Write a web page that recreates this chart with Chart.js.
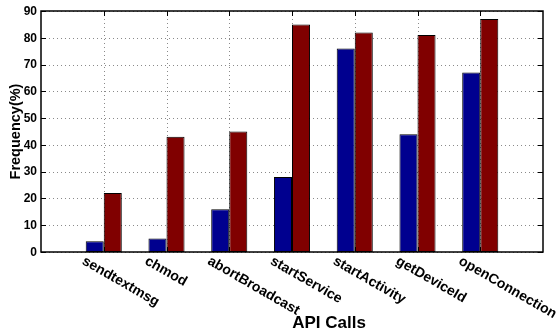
<!DOCTYPE html>
<html>
<head>
<meta charset="utf-8">
<script src="https://cdn.jsdelivr.net/npm/chart.js@4/dist/chart.umd.min.js"></script>
<style>
html,body{margin:0;padding:0;background:#fff;}
canvas{display:block;}
</style>
</head>
<body>
<canvas id="c" width="558" height="334"></canvas>
<script>
const categories = ['sendtextmsg', 'chmod', 'abortBroadcast', 'startService', 'startActivity', 'getDeviceId', 'openConnection'];
const blueValues = [4, 5, 16, 28, 76, 44, 67];
const redValues = [22, 43, 45, 85, 82, 81, 87];
const yMin = 0, yMax = 90, yStep = 10;
const xTitle = 'API Calls';
const yTitle = 'Frequency(%)';

const labels = [''].concat(categories, ['']);
const pad = arr => [null].concat(arr, [null]);

const FONT = '"Liberation Sans", Arial, sans-serif';

const gridPlugin = {
  id: 'dottedGrid',
  beforeDatasetsDraw(chart) {
    const ctx = chart.ctx;
    const a = chart.chartArea;
    const xs = chart.scales.x, ys = chart.scales.y;
    ctx.save();
    ctx.strokeStyle = '#8a8a8a';
    ctx.lineWidth = 1;
    ctx.setLineDash([1, 3]);
    ys.ticks.forEach(t => {
      const y = Math.round(ys.getPixelForValue(t.value)) + 0.5;
      ctx.beginPath(); ctx.moveTo(a.left, y); ctx.lineTo(a.right, y); ctx.stroke();
    });
    for (let i = 1; i < labels.length - 1; i++) {
      const x = Math.round(xs.getPixelForValue(i)) + 0.5;
      ctx.beginPath(); ctx.moveTo(x, a.top); ctx.lineTo(x, a.bottom); ctx.stroke();
    }
    ctx.restore();
  }
};

const decor = {
  id: 'decor',
  afterDraw(chart) {
    const ctx = chart.ctx;
    const a = chart.chartArea;
    const xs = chart.scales.x, ys = chart.scales.y;
    ctx.save();
    ctx.strokeStyle = '#000';
    ctx.lineWidth = 1.5;
    ctx.strokeRect(a.left, a.top, a.right - a.left, a.bottom - a.top);
    ctx.lineWidth = 1;
    ctx.fillStyle = '#000';
    ctx.font = 'bold 12px ' + FONT;
    ctx.textAlign = 'right';
    ctx.textBaseline = 'middle';
    ys.ticks.forEach(t => {
      const yp = ys.getPixelForValue(t.value);
      const y = Math.round(yp) + 0.5;
      ctx.beginPath();
      ctx.moveTo(a.left, y); ctx.lineTo(a.left + 5, y);
      ctx.moveTo(a.right, y); ctx.lineTo(a.right - 5, y);
      ctx.stroke();
      ctx.fillText(String(t.value), a.left - 4, yp + 0.5);
    });
    for (let i = 1; i < labels.length - 1; i++) {
      const x = Math.round(xs.getPixelForValue(i)) + 0.5;
      ctx.beginPath();
      ctx.moveTo(x, a.top); ctx.lineTo(x, a.top + 5);
      ctx.moveTo(x, a.bottom); ctx.lineTo(x, a.bottom - 5);
      ctx.stroke();
    }
    ctx.font = 'bold 14px ' + FONT;
    ctx.textAlign = 'left';
    ctx.textBaseline = 'top';
    categories.forEach((c, i) => {
      const x = xs.getPixelForValue(i + 1);
      ctx.save();
      ctx.translate(x - 17, a.bottom + 2);
      ctx.rotate(30 * Math.PI / 180);
      ctx.fillText(c, 0, 0);
      ctx.restore();
    });
    ctx.font = 'bold 17px ' + FONT;
    ctx.textAlign = 'center';
    ctx.textBaseline = 'alphabetic';
    ctx.fillText(xTitle, (a.left + a.right) / 2 + 37, 328);
    ctx.save();
    ctx.font = 'bold 14.5px ' + FONT;
    ctx.translate(20, (a.top + a.bottom) / 2);
    ctx.rotate(-Math.PI / 2);
    ctx.fillText(yTitle, 0, 0);
    ctx.restore();
    ctx.restore();
  }
};

new Chart(document.getElementById('c'), {
  type: 'bar',
  data: {
    labels: labels,
    datasets: [
      { data: pad(blueValues), backgroundColor: '#00008f', borderColor: '#000', borderWidth: 1 },
      { data: pad(redValues), backgroundColor: '#800000', borderColor: '#000', borderWidth: 1 }
    ]
  },
  options: {
    responsive: false,
    animation: false,
    devicePixelRatio: 1,
    layout: { padding: { left: 0, top: 11, right: 15, bottom: 82 } },
    plugins: { legend: { display: false }, tooltip: { enabled: false }, title: { display: false } },
    datasets: { bar: { categoryPercentage: 0.575, barPercentage: 1.0, borderSkipped: false } },
    scales: {
      x: {
        offset: false,
        grid: { display: false, offset: false },
        border: { display: false },
        ticks: { display: false },
        afterFit(s) { s.height = 0; }
      },
      y: {
        min: yMin, max: yMax,
        grid: { display: false },
        border: { display: false },
        ticks: { display: false, stepSize: yStep },
        afterFit(s) { s.width = 41; }
      }
    }
  },
  plugins: [gridPlugin, decor]
});
</script>
</body>
</html>
